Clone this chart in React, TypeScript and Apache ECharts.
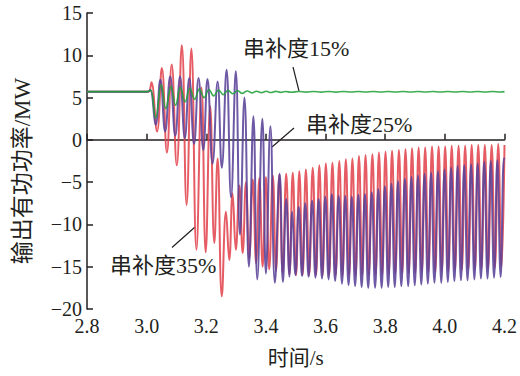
import React, { useEffect, useRef } from "react";
import * as echarts from "echarts";

const X_TICKS = [2.8, 3.0, 3.2, 3.4, 3.6, 3.8, 4.0, 4.2];
const Y_TICKS = [-20, -15, -10, -5, 0, 5, 10, 15];
const LABELS = ["串补度15%", "串补度25%", "串补度35%"];
const X_NAME = "时间/s";
const Y_NAME = "输出有功功率/MW";

const green15: [number, number][] = [
  [2.8, 5.7], [3.003, 5.7], [3.013, 5.9], [3.03, 2.6], [3.049, 6.5], [3.064, 3.7], [3.082, 6.3], [3.097, 4.1],
  [3.113, 6.2], [3.129, 4.5], [3.145, 6.1], [3.161, 4.8], [3.177, 6.0], [3.193, 5.0], [3.209, 5.95], [3.225, 5.2],
  [3.241, 5.9], [3.257, 5.35], [3.273, 5.85], [3.289, 5.45], [3.305, 5.8], [3.321, 5.5], [3.337, 5.78], [3.353, 5.55],
  [3.369, 5.75], [3.385, 5.58], [3.401, 5.74], [3.417, 5.6], [3.433, 5.73], [3.449, 5.62], [3.465, 5.72], [3.485, 5.63],
  [3.51, 5.72], [3.535, 5.64], [3.56, 5.72], [3.585, 5.64], [3.61, 5.72], [3.635, 5.64], [3.66, 5.72], [3.685, 5.65],
  [3.71, 5.72], [3.735, 5.65], [3.76, 5.72], [3.785, 5.65], [3.81, 5.72], [3.835, 5.65], [3.86, 5.72], [3.885, 5.65],
  [3.91, 5.72], [3.935, 5.65], [3.96, 5.72], [3.985, 5.65], [4.01, 5.72], [4.035, 5.65], [4.06, 5.72], [4.085, 5.65],
  [4.11, 5.72], [4.135, 5.65], [4.16, 5.72], [4.185, 5.65], [4.2, 5.7],
];

const purple25: [number, number][] = [
  [2.8, 5.7], [3.003, 5.7], [3.012, 5.9], [3.03, 1.8], [3.046, 7.1], [3.062, 1.0], [3.079, 7.5], [3.096, 0.5],
  [3.112, 7.5], [3.128, 0.2], [3.143, 7.3], [3.159, -0.5], [3.174, 7.3], [3.19, -1.2], [3.204, 7.2], [3.221, -2.8],
  [3.238, 6.9], [3.252, -3.3], [3.268, 8.3], [3.283, -6.8], [3.299, 8.1], [3.313, -11.2], [3.328, 5.0], [3.343, -15.0],
  [3.358, 2.8], [3.371, -16.5], [3.388, 2.5], [3.4, -15.8], [3.415, 1.6], [3.43, -16.9], [3.446, -4.0], [3.457, -16.8],
  [3.468, -7.0], [3.479, -16.2], [3.488, -8.5], [3.499, -16.0], [3.51, -7.9], [3.521, -16.1], [3.532, -7.5], [3.543, -16.2],
  [3.555, -7.2], [3.566, -16.3], [3.577, -7.0], [3.588, -16.4], [3.599, -6.7], [3.61, -16.5], [3.621, -6.4], [3.632, -16.7],
  [3.644, -6.6], [3.655, -17.0], [3.666, -6.6], [3.677, -17.2], [3.688, -6.7], [3.699, -17.3], [3.71, -6.5], [3.721, -17.4],
  [3.732, -6.4], [3.743, -17.5], [3.755, -6.2], [3.766, -17.5], [3.777, -5.8], [3.788, -17.5], [3.799, -5.5], [3.81, -17.4],
  [3.821, -5.2], [3.832, -17.4], [3.843, -4.9], [3.854, -17.3], [3.866, -4.6], [3.877, -17.3], [3.888, -4.4], [3.899, -17.2],
  [3.91, -4.2], [3.921, -17.1], [3.932, -4.0], [3.943, -17.0], [3.954, -3.9], [3.965, -16.9], [3.977, -3.7], [3.988, -16.9],
  [3.999, -3.5], [4.01, -16.8], [4.021, -3.3], [4.032, -16.7], [4.043, -3.1], [4.054, -16.6], [4.065, -3.0], [4.076, -16.6],
  [4.088, -2.9], [4.099, -16.5], [4.11, -2.8], [4.121, -16.4], [4.132, -2.6], [4.143, -16.4], [4.154, -2.5], [4.165, -16.3],
  [4.176, -2.4], [4.187, -16.2], [4.198, -2.2], [4.2, -2.3],
];

const red35: [number, number][] = [
  [2.8, 5.7], [3.003, 5.7], [3.01, 5.8], [3.016, 6.8], [3.035, 1.0], [3.051, 8.5], [3.068, -1.5], [3.084, 8.9],
  [3.101, -3.0], [3.118, 11.2], [3.134, -7.7], [3.15, 10.8], [3.167, -13.0], [3.184, 6.2], [3.198, -13.3], [3.213, 4.0],
  [3.227, -12.2], [3.238, -2.2], [3.252, -18.5], [3.266, -8.5], [3.277, -14.2], [3.288, -6.3], [3.299, -13.0], [3.311, -5.4],
  [3.322, -13.4], [3.333, -5.0], [3.344, -14.0], [3.356, -4.7], [3.367, -14.6], [3.378, -4.5], [3.389, -15.0], [3.4, -4.4],
  [3.411, -15.3], [3.423, -4.2], [3.434, -15.5], [3.445, -4.1], [3.456, -15.7], [3.468, -4.0], [3.479, -15.9], [3.49, -3.9],
  [3.501, -16.0], [3.512, -3.7], [3.523, -16.0], [3.534, -3.5], [3.545, -16.0], [3.557, -3.3], [3.568, -16.0], [3.579, -3.0],
  [3.59, -16.0], [3.601, -2.8], [3.612, -16.0], [3.623, -2.7], [3.634, -16.0], [3.646, -2.5], [3.657, -16.0], [3.668, -2.3],
  [3.679, -16.0], [3.69, -2.2], [3.701, -16.0], [3.712, -1.9], [3.723, -16.0], [3.734, -1.8], [3.745, -16.0], [3.757, -1.7],
  [3.768, -15.9], [3.779, -1.5], [3.79, -15.9], [3.801, -1.4], [3.812, -15.8], [3.823, -1.3], [3.834, -15.8], [3.846, -1.2],
  [3.857, -15.8], [3.868, -1.1], [3.879, -15.7], [3.89, -1.0], [3.901, -15.7], [3.912, -0.9], [3.923, -15.6], [3.934, -0.9],
  [3.945, -15.6], [3.957, -0.8], [3.968, -15.6], [3.979, -0.8], [3.99, -15.5], [4.001, -0.8], [4.012, -15.5], [4.023, -0.7],
  [4.034, -15.4], [4.046, -0.7], [4.057, -15.4], [4.068, -0.7], [4.079, -15.3], [4.09, -0.6], [4.101, -15.3], [4.112, -0.6],
  [4.123, -15.2], [4.134, -0.6], [4.145, -15.2], [4.157, -0.6], [4.168, -15.1], [4.179, -0.5], [4.19, -15.0], [4.2, -0.6],
];

const FONT = "'Liberation Serif', 'Times New Roman', 'Noto Sans CJK SC', serif";
const INK = "#231f20";

export default function App() {
  const ref = useRef<HTMLDivElement>(null);
  useEffect(() => {
    const chart = echarts.init(ref.current!, null, { renderer: "svg" });
    const lineSeries = (name: string, data: [number, number][], color: string, width: number, z: number) => ({
      name,
      type: "line",
      data,
      smooth: 0.45,
      showSymbol: false,
      symbol: "none",
      z,
      lineStyle: { color, width, opacity: 0.88 },
    });
    chart.setOption({
      animation: false,
      backgroundColor: "#ffffff",
      grid: { left: 87, right: 14, top: 13, bottom: 67, containLabel: false },
      xAxis: {
        type: "value",
        min: X_TICKS[0],
        max: X_TICKS[X_TICKS.length - 1],
        interval: 0.2,
        name: X_NAME,
        nameLocation: "middle",
        nameGap: 38,
        nameTextStyle: { fontSize: 21, fontFamily: FONT, color: INK },
        axisLine: { lineStyle: { color: INK, width: 1.5 } },
        axisTick: { inside: true, length: 6, lineStyle: { color: INK, width: 1.5 } },
        axisLabel: {
          fontSize: 20,
          fontFamily: FONT,
          color: INK,
          margin: 7,
          formatter: (v: number) => v.toFixed(1),
        },
        splitLine: { show: false },
      },
      yAxis: {
        type: "value",
        min: Y_TICKS[0],
        max: Y_TICKS[Y_TICKS.length - 1],
        interval: 5,
        axisLine: { show: true, lineStyle: { color: INK, width: 1.5 } },
        axisTick: { show: true, inside: true, length: 6, lineStyle: { color: INK, width: 1.5 } },
        axisLabel: {
          fontSize: 20,
          fontFamily: FONT,
          color: INK,
          margin: 5,
          formatter: (v: number) => String(v).replace("-", "\u2212"),
        },
        splitLine: { show: false },
      },
      series: [
        lineSeries("red35", red35, "#e3464f", 2, 2),
        lineSeries("purple25", purple25, "#5a4298", 2, 3),
        lineSeries("green15", green15, "#22a03a", 1.6, 4),
      ],
      graphic: [
        {
          type: "text",
          x: 22,
          y: 171,
          rotation: Math.PI / 2,
          style: { text: Y_NAME, fontSize: 23, fontFamily: FONT, fill: INK, align: "center", verticalAlign: "middle" },
        },
        { type: "text", x: 243, y: 48, style: { text: LABELS[0], fontSize: 22, fontFamily: FONT, fill: INK, verticalAlign: "middle" } },
        { type: "text", x: 306, y: 124, style: { text: LABELS[1], fontSize: 22, fontFamily: FONT, fill: INK, verticalAlign: "middle" } },
        { type: "text", x: 110, y: 265, style: { text: LABELS[2], fontSize: 22, fontFamily: FONT, fill: INK, verticalAlign: "middle" } },
        { type: "line", shape: { x1: 293, y1: 67, x2: 299, y2: 91 }, style: { stroke: INK, lineWidth: 1.2 } },
        { type: "line", shape: { x1: 294, y1: 128, x2: 272, y2: 147 }, style: { stroke: INK, lineWidth: 1.2 } },
        { type: "line", shape: { x1: 195, y1: 227, x2: 172, y2: 247.5 }, style: { stroke: INK, lineWidth: 1.2 } },
      ],
    });
    return () => chart.dispose();
  }, []);
  return (
    <div
      ref={ref}
      style={{ position: "absolute", left: 0, top: 0, width: 520, height: 376, background: "#fff" }}
    />
  );
}
